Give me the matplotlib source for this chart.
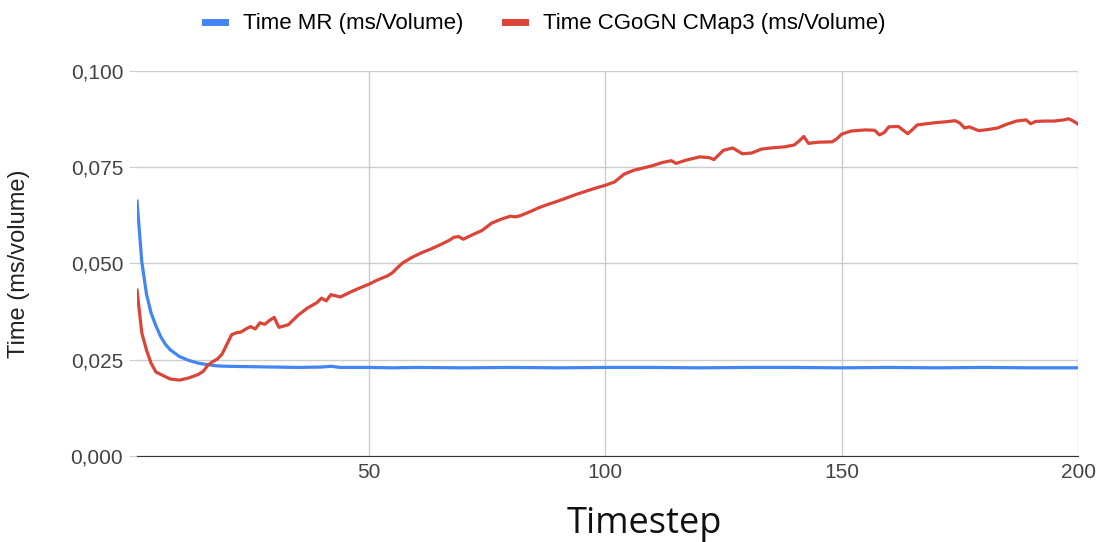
import matplotlib
matplotlib.use('Agg')
import matplotlib.pyplot as plt
from matplotlib.ticker import FuncFormatter

plt.rcParams['font.family'] = ['Liberation Sans', 'DejaVu Sans']

# values
mr_steps = [1, 2, 3, 4, 5, 6, 7, 8, 10, 12, 14, 16, 18, 20, 25, 30, 35, 40, 42, 44,
            50, 55, 60, 70, 80, 90, 100, 110, 120, 130, 140, 150, 160, 170, 180, 190, 200]
mr_time = [0.0662, 0.0505, 0.0420, 0.0370, 0.0338, 0.0310, 0.0290, 0.0276, 0.0258, 0.0248,
           0.0241, 0.0237, 0.0234, 0.0233, 0.0232, 0.0231, 0.0230, 0.0231, 0.0233, 0.0230,
           0.0230, 0.0229, 0.0230, 0.0229, 0.0230, 0.0229, 0.0230, 0.0230, 0.0229, 0.0230,
           0.0230, 0.0229, 0.0230, 0.0229, 0.0230, 0.0229, 0.0229]

cmap3_steps = [1, 2, 3, 4, 5, 6, 8, 10, 12, 14, 15, 16, 17, 18, 19, 20, 21, 22, 23, 24,
               25, 26, 27, 28, 29, 30, 31, 33, 35, 37, 39, 40, 41, 42, 44, 46, 48, 50, 52, 54,
               55, 57, 59, 61, 63, 65, 67, 68, 69, 70, 72, 74, 76, 78, 80, 81, 82, 84, 86, 88,
               90, 92, 94, 96, 98, 100, 102, 104, 106, 108, 110, 112, 114, 115, 117, 120, 122, 123, 125, 127,
               129, 131, 133, 135, 138, 140, 141, 142, 143, 145, 148, 149, 150, 152, 155, 157, 158, 159, 160, 162,
               164, 165, 166, 168, 170, 172, 174, 175, 176, 177, 179, 181, 183, 185, 187, 189, 190, 191, 193, 195,
               197, 198, 199, 200]
cmap3_time = [0.0431, 0.0320, 0.0275, 0.0240, 0.0218, 0.0212, 0.0200, 0.0197, 0.0203, 0.0212,
              0.0220, 0.0236, 0.0245, 0.0252, 0.0265, 0.0290, 0.0315, 0.0320, 0.0322, 0.0330,
              0.0336, 0.0330, 0.0346, 0.0342, 0.0352, 0.0360, 0.0334, 0.0341, 0.0365, 0.0384,
              0.0398, 0.0410, 0.0403, 0.0419, 0.0413, 0.0425, 0.0436, 0.0446, 0.0458, 0.0468,
              0.0476, 0.0500, 0.0515, 0.0527, 0.0537, 0.0548, 0.0560, 0.0568, 0.0570, 0.0563,
              0.0575, 0.0586, 0.0605, 0.0615, 0.0623, 0.0621, 0.0624, 0.0634, 0.0645, 0.0654,
              0.0662, 0.0671, 0.0680, 0.0688, 0.0696, 0.0703, 0.0712, 0.0732, 0.0742, 0.0748,
              0.0754, 0.0762, 0.0767, 0.0760, 0.0768, 0.0777, 0.0775, 0.0770, 0.0794, 0.0800,
              0.0785, 0.0787, 0.0797, 0.0800, 0.0803, 0.0808, 0.0818, 0.0830, 0.0812, 0.0815,
              0.0816, 0.0824, 0.0836, 0.0844, 0.0847, 0.0846, 0.0834, 0.0840, 0.0855, 0.0856,
              0.0837, 0.0848, 0.0860, 0.0863, 0.0866, 0.0868, 0.0871, 0.0865, 0.0852, 0.0855,
              0.0845, 0.0848, 0.0852, 0.0862, 0.0870, 0.0873, 0.0863, 0.0869, 0.0870, 0.0870,
              0.0873, 0.0876, 0.0870, 0.0862]

x_ticks = [50, 100, 150, 200]
y_ticks = [0.0, 0.025, 0.05, 0.075, 0.1]

fig = plt.figure(figsize=(10.99, 5.42), dpi=100)
ax = fig.add_axes([0.1247, 0.1587, 0.8562, 0.7103])

ax.plot(mr_steps, mr_time, color='#4285f4', lw=2.3, label='Time MR (ms/Volume)')
ax.plot(cmap3_steps, cmap3_time, color='#db4437', lw=2.3, label='Time CGoGN CMap3 (ms/Volume)')

ax.set_xlim(1, 200)
ax.set_ylim(0, 0.1)
ax.set_xticks(x_ticks)
ax.set_yticks(y_ticks)
ax.yaxis.set_major_formatter(FuncFormatter(lambda v, p: f'{v:.3f}'.replace('.', ',')))
ax.grid(True, color='#cccccc', lw=1)
ax.set_axisbelow(True)
for side in ['top', 'right', 'left']:
    ax.spines[side].set_visible(False)
ax.spines['bottom'].set_color('#333333')
ax.tick_params(axis='x', length=0, pad=5, labelsize=15, labelcolor='#444444')
ax.tick_params(axis='y', length=6, color='#cccccc', pad=4, labelsize=15, labelcolor='#444444')

ax.set_ylabel('Time (ms/volume)', fontsize=17, color='#222222')
ax.yaxis.set_label_coords(-0.114, 0.5)
ax.set_xlabel('Timestep', fontsize=26, color='#111111',
              family=['Open Sans', 'DejaVu Sans'])
ax.xaxis.set_label_coords(0.539, -0.13)

fig.legend(loc='center', bbox_to_anchor=(0.496, 0.956), ncol=2, frameon=False,
           fontsize=16, handlelength=0.9, handletextpad=0.8, columnspacing=1.9)
for line in fig.legends[0].get_lines():
    line.set_linewidth(5)

fig.savefig('out.png', dpi=100)
